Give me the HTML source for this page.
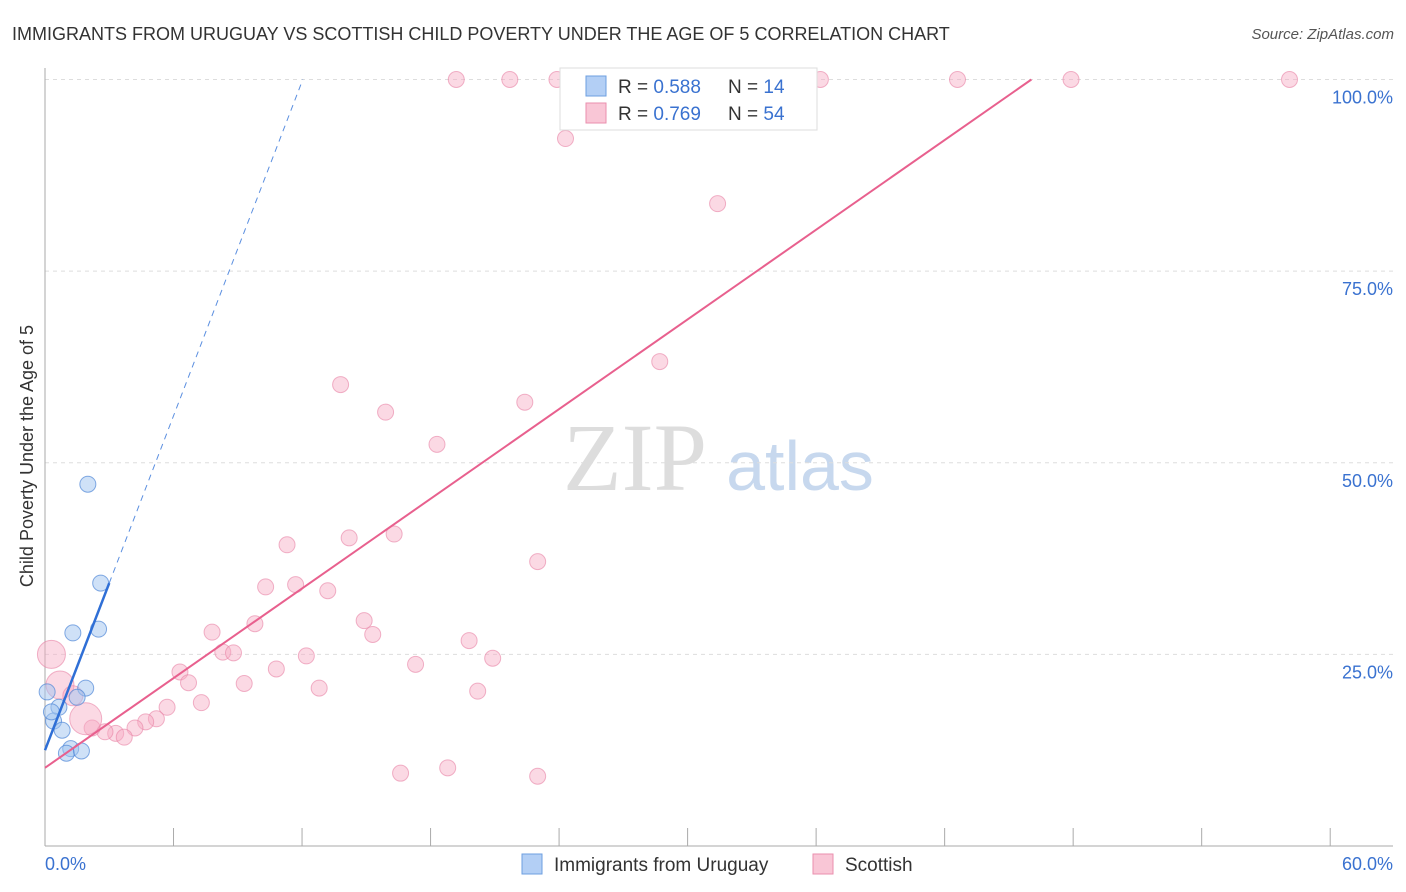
<!DOCTYPE html>
<html><head><meta charset="utf-8"><style>
body{margin:0;background:#fff;font-family:"Liberation Sans",sans-serif;}
svg{display:block}
</style></head><body>
<svg id="c" width="1406" height="892" xmlns="http://www.w3.org/2000/svg">
<text x="12" y="40" font-size="18" fill="#333">IMMIGRANTS FROM URUGUAY VS SCOTTISH CHILD POVERTY UNDER THE AGE OF 5 CORRELATION CHART</text>
<text x="1394" y="39" font-size="15" fill="#555" font-style="italic" text-anchor="end">Source: ZipAtlas.com</text>
<text transform="translate(33,456) rotate(-90)" font-size="18" fill="#333" text-anchor="middle">Child Poverty Under the Age of 5</text>
<g>
<text x="635" y="490" font-size="96" font-family="Liberation Serif,serif" fill="#ddd" text-anchor="middle">ZIP</text>
<text x="800" y="490" font-size="70" fill="#c7d8ee" text-anchor="middle">atlas</text>
</g>
<g id="grid"></g><g id="axes"></g><g id="pts"></g><g id="lines"></g>
<g>
<rect x="560" y="68" width="257" height="62" fill="#fff" stroke="#ddd"/>
<rect x="586" y="76" width="20" height="20" fill="#b3cff5" stroke="#6e9fe0"/>
<rect x="586" y="103" width="20" height="20" fill="#f9c6d6" stroke="#ea8fae"/>
<text x="618" y="93" font-size="19" fill="#333">R = <tspan fill="#3a72d0">0.588</tspan><tspan x="728">N = </tspan><tspan fill="#3a72d0">14</tspan></text>
<text x="618" y="120" font-size="19" fill="#333">R = <tspan fill="#3a72d0">0.769</tspan><tspan x="728">N = </tspan><tspan fill="#3a72d0">54</tspan></text>
</g>
<g>
<rect x="522" y="854" width="20" height="20" fill="#b3cff5" stroke="#6e9fe0"/>
<text x="554" y="871" font-size="19" fill="#333">Immigrants from Uruguay</text>
<rect x="813" y="854" width="20" height="20" fill="#f9c6d6" stroke="#ea8fae"/>
<text x="845" y="871" font-size="19" fill="#333">Scottish</text>
</g>
</svg>
<script>
const blueX=[2.0,2.6,2.5,1.3,1.9,1.5,0.1,0.65,0.4,0.8,1.2,1.0,1.7,0.3];
const blueY=[47.2,34.3,28.3,27.8,20.6,19.4,20.1,18.1,16.3,15.1,12.7,12.1,12.4,17.5];
const pinkX=[19.2,21.7,23.9,27.2,36.2,42.6,47.9,58.1,24.3,31.4,28.7,13.8,15.9,22.4,18.3,11.3,14.2,16.3,23.0,10.3,11.7,13.2,7.8,9.8,14.9,15.3,19.8,8.3,8.8,12.2,20.9,6.3,10.8,17.3,6.7,9.3,12.8,20.2,7.3,5.7,5.2,4.7,4.2,3.3,3.7,2.8,2.2,16.6,18.8,23.0,0.3,0.7,1.3,1.9];
const pinkY=[100,100,100,100,100,100,100,100,92.3,83.8,63.2,60.2,56.6,57.9,52.4,39.3,40.2,40.7,37.1,33.8,34.1,33.3,27.9,29.0,29.4,27.6,26.8,25.3,25.2,24.8,24.5,22.7,23.1,23.7,21.3,21.2,20.6,20.2,18.7,18.1,16.6,16.2,15.4,14.7,14.2,14.9,15.4,9.5,10.2,9.1,25.0,21.0,19.6,16.6];
const pinkR=[8,8,8,8,8,8,8,8,8,8,8,8,8,8,8,8,8,8,8,8,8,8,8,8,8,8,8,8,8,8,8,8,8,8,8,8,8,8,8,8,8,8,8,8,8,8,8,8,8,8,14,14,10,16];
const xTicks=[0,60];
const yTicks=[25,50,75,100];
const blueFit=[12.5,7.27], pinkFit=[10.2,1.95];
const X=v=>45+v*21.42, Y=v=>846-v*7.665;
const NS="http://www.w3.org/2000/svg";
function mk(t,a,p){const e=document.createElementNS(NS,t);for(const k in a)e.setAttribute(k,a[k]);p.appendChild(e);return e;}
const g=document.getElementById('grid'),ax=document.getElementById('axes'),pts=document.getElementById('pts'),ln=document.getElementById('lines');
yTicks.forEach(v=>{
 const l=mk('line',{x1:45,x2:1393,y1:Y(v),y2:Y(v),stroke:'#ddd','stroke-dasharray':'4,4'},g);
 
 
 const t=mk('text',{x:1393,y:Y(v)+24,'font-size':18,fill:'#3a72d0','text-anchor':'end'},ax);t.textContent=v.toFixed(1)+'%';
 
 
});
mk('line',{x1:45,x2:45,y1:68,y2:846,stroke:'#aaa'},ax);
mk('line',{x1:45,x2:1393,y1:846,y2:846,stroke:'#aaa'},ax);
for(let i=0;i<=10;i++){mk('line',{x1:X(i*6),x2:X(i*6),y1:828,y2:846,stroke:'#aaa'},ax);}
xTicks.forEach((v,i)=>{const t=mk('text',{x:i?1393:45,y:870,'font-size':18,fill:'#3a72d0','text-anchor':i?'end':'start'},ax);t.textContent=v.toFixed(1)+'%';
 
 });
pinkX.forEach((v,i)=>{const c=mk('circle',{cx:X(v),cy:Y(pinkY[i]),r:pinkR[i],fill:'rgba(246,170,196,0.45)',stroke:'rgba(232,130,165,0.6)'},pts);
 
 });
blueX.forEach((v,i)=>{const c=mk('circle',{cx:X(v),cy:Y(blueY[i]),r:8,fill:'rgba(160,195,240,0.5)',stroke:'rgba(80,135,215,0.7)'},pts);
 
 });
const px2=(100-pinkFit[0])/pinkFit[1];
const pl=mk('line',{x1:X(0),y1:Y(pinkFit[0]),x2:X(px2),y2:Y(100),stroke:'#e8608e','stroke-width':2},ln);


const bs=3.0,bx2=(100-blueFit[0])/blueFit[1];
const bl=mk('line',{x1:X(0),y1:Y(blueFit[0]),x2:X(bs),y2:Y(blueFit[0]+blueFit[1]*bs),stroke:'#2f6fd6','stroke-width':2.5},ln);


const bd=mk('line',{x1:X(bs),y1:Y(blueFit[0]+blueFit[1]*bs),x2:X(bx2),y2:Y(100),stroke:'#5b8fe0','stroke-width':1,'stroke-dasharray':'6,5'},ln);


</script>
</body></html>
